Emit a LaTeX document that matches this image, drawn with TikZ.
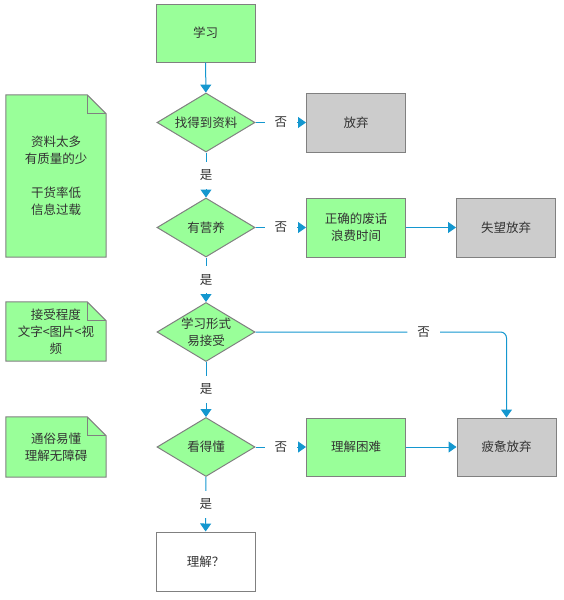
\documentclass[tikz,border=0pt]{standalone}
\usepackage{fontspec}
\setmainfont{Noto Sans CJK SC}
\usetikzlibrary{shapes.geometric,arrows.meta,calc,backgrounds}
\definecolor{gfill}{HTML}{99FF99}
\definecolor{grayfill}{HTML}{CCCCCC}
\definecolor{edgecol}{HTML}{808080}
\definecolor{conncol}{HTML}{1497CF}
\definecolor{txtcol}{HTML}{333333}
\begin{document}
\begin{tikzpicture}[x=1pt,y=-1pt,
  every node/.style={font=\fontsize{12.5}{17}\selectfont, text=txtcol, align=center},
  box/.style={rectangle, draw=edgecol, line width=1pt, minimum width=99pt, minimum height=58pt, inner sep=0pt},
  greenbox/.style={box, fill=gfill},
  graybox/.style={box, fill=grayfill},
  whitebox/.style={box, fill=white},
  decision/.style={diamond, draw=edgecol, fill=gfill, line width=1pt, aspect=1.66, inner sep=0pt, minimum width=98pt, minimum height=59pt},
  notebox/.style={rectangle, minimum width=100pt, inner sep=0pt},
  noteline/.style={draw=edgecol, fill=gfill, line width=1pt, line join=miter},
  conn/.style={draw=conncol, line width=1pt, -{Triangle[width=11pt,length=8pt]}},
  lbl/.style={fill=white, inner xsep=10pt, inner ysep=8pt, font=\fontsize{12.5}{14}\selectfont}
]
\useasboundingbox (0,0) rectangle (564,600);

% main column
\node[greenbox] (start) at (205.5,33) {学习};
\node[decision] (d1) at (206,122.5) {找得到资料};
\node[decision] (d2) at (206,227.5) {有营养};
\node[decision] (d3) at (206,332) {学习形式\\易接受};
\node[decision] (d4) at (206,447) {看得懂};
\node[whitebox, minimum height=59pt] (finish) at (205.5,561.5) {理解？};

% right side boxes
\node[graybox, minimum height=59pt] (giveup) at (356,122.5) {放弃};
\node[greenbox, minimum height=59pt] (waste) at (356,227.5) {正确的废话\\浪费时间};
\node[graybox, minimum height=59pt] (disap) at (506,227.5) {失望放弃};
\node[greenbox] (hard) at (356,447) {理解困难};
\node[graybox] (tired) at (506.5,447) {疲惫放弃};

% notes
\node[notebox, minimum height=164pt] (n1) at (56,176) {资料太多\\有质量的少\\[17pt]干货率低\\信息过载};
\node[notebox, minimum height=59pt] (n2) at (56,331.5) {接受程度\\文字<图片<视\\频};
\node[notebox, minimum height=60pt] (n3) at (56,447) {通俗易懂\\理解无障碍};
\begin{scope}[on background layer]
  \foreach \n in {n2,n3}{
    \draw[noteline] (\n.north west) -- ([xshift=-19pt]\n.north east) -- ([yshift=-19pt]\n.north east) -- (\n.south east) -- (\n.south west) -- cycle;
    \draw[draw=edgecol, line width=1pt] ([xshift=-19pt]\n.north east) -- ([xshift=-19pt,yshift=-19pt]\n.north east) -- ([yshift=-19pt]\n.north east);
  }
  \draw[noteline] ([yshift=-1pt]n1.north west) -- ([xshift=-19pt,yshift=-1pt]n1.north east) -- ([yshift=-20pt]n1.north east) -- ([yshift=1pt]n1.south east) -- ([yshift=1pt]n1.south west) -- cycle;
  \draw[draw=edgecol, line width=1pt] ([xshift=-19pt,yshift=-1pt]n1.north east) -- ([xshift=-19pt,yshift=-20pt]n1.north east) -- ([yshift=-20pt]n1.north east);
\end{scope}

% connectors
\draw[conn] (start) -- (d1);
\draw[conn] (d1) -- node[lbl] {是} (d2);
\draw[conn] (d2) -- node[lbl] {是} (d3);
\draw[conn] (d3) -- node[lbl] {是} (d4);
\draw[conn] (d4) -- node[lbl] {是} (finish);
\draw[conn] (d1) -- node[lbl] {否} (giveup);
\draw[conn] (d2) -- node[lbl] {否} (waste);
\draw[conn] (waste) -- (disap);
\draw[conn] (d4) -- node[lbl] {否} (hard);
\draw[conn] (hard) -- (tired);
\draw[conn, rounded corners=6pt] (d3.east) -| node[lbl, pos=0.335] {否} (tired.north);
\end{tikzpicture}
\end{document}
